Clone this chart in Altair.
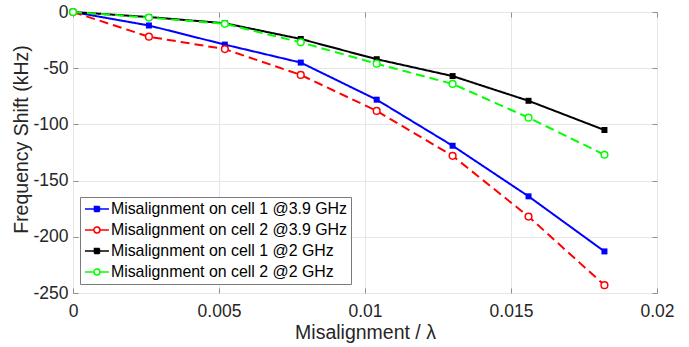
import altair as alt
import pandas as pd

# ---- data ----
x_vals = [0, 0.0026, 0.0052, 0.0078, 0.0104, 0.013, 0.0156, 0.0182]
cell1_39 = [0, -12, -29, -45, -78, -119, -164, -213]
cell2_39 = [0, -22, -33, -56, -88, -128, -182, -243]
cell1_2 = [0, -4.5, -10, -24, -42, -57, -79, -105]
cell2_2 = [0, -5, -10.5, -27, -46, -64, -94, -127]

series_names = [
    "Misalignment on cell 1 @3.9 GHz",
    "Misalignment on cell 2 @3.9 GHz",
    "Misalignment on cell 1 @2 GHz",
    "Misalignment on cell 2 @2 GHz",
]
series_values = [cell1_39, cell2_39, cell1_2, cell2_2]
series_colors = ["#0000FF", "#FF0000", "#000000", "#00FF00"]
series_dashes = [[1, 0], [9, 5], [1, 0], [9, 5]]

x_ticks = [0, 0.005, 0.01, 0.015, 0.02]
y_ticks = [0, -50, -100, -150, -200, -250]

rows = []
for k, (name, vals) in enumerate(zip(series_names, series_values)):
    for xv, yv in zip(x_vals, vals):
        rows.append({"series": name, "k": k, "x": xv, "y": yv})
df = pd.DataFrame(rows)

FONT = "Liberation Sans"
TXT = "#262626"
BOX = "#8f8f8f"

xscale = alt.Scale(domain=[0, 0.02], nice=False, zero=False)
yscale = alt.Scale(domain=[-250, 0], nice=False, zero=False)
cscale = alt.Scale(domain=series_names, range=series_colors)

main_x_axis = alt.Axis(
    values=x_ticks, labelExpr="'' + datum.value", ticks=False, tickSize=0,
    domain=False, grid=True, labelPadding=9, labelFontSize=17.5,
    labelFlush=False, labelOverlap=False,
    title="Misalignment / λ", titleFontSize=19.5, titleFontWeight="normal",
    titleY=45, titleBaseline="alphabetic",
)
main_y_axis = alt.Axis(
    values=y_ticks, labelExpr="'' + datum.value", ticks=False, tickSize=0,
    domain=False, grid=True, labelPadding=5, labelFontSize=17.5,
    labelFlush=False, labelOverlap=False,
    title="Frequency Shift (kHz)", titleFontSize=19.5, titleFontWeight="normal",
    titleX=-46, titleY=127, titleAngle=270, titleAlign="center",
    titleBaseline="alphabetic",
)


def tick_axis(orient, values):
    return alt.Axis(
        orient=orient, offset=-5, domain=False, labels=False, grid=False,
        ticks=True, tickSize=5, tickColor=BOX, tickWidth=1, title=None,
        values=values,
    )


# legend glyphs: short line with a filled square, or with an open circle
sq_path = "M-1.4,0H3.4M0.5,-0.5H1.5V0.5H0.5Z"
ci_path = ("M-1.4,0H0.4M1.6,0H3.4"
           "M1.6,0A0.6,0.6,0,1,1,0.4,0A0.6,0.6,0,1,1,1.6,0Z"
           "M1.6,0A0.6,0.6,0,1,0,0.4,0A0.6,0.6,0,1,0,1.6,0Z")
is_cell1 = "indexof(datum.value, 'cell 1') >= 0"

legend = alt.Legend(
    orient="none", legendX=7, legendY=185, title=None,
    labelFont=FONT, labelFontSize=15.9, labelColor="#000000", labelLimit=400,
    symbolSize=100, symbolStrokeWidth=1.5,
    symbolType={"expr": is_cell1 + " ? '" + sq_path + "' : '" + ci_path + "'"},
    labelOffset=11, rowPadding=4, padding=4,
    strokeColor="#7a7a7a", fillColor="#ffffff",
)

lines = alt.Chart(df).mark_line(strokeWidth=2).encode(
    x=alt.X("x:Q", scale=xscale, axis=main_x_axis),
    y=alt.Y("y:Q", scale=yscale, axis=main_y_axis),
    color=alt.Color("series:N", scale=cscale, legend=legend),
    strokeDash=alt.StrokeDash(
        "series:N", scale=alt.Scale(domain=series_names, range=series_dashes), legend=None
    ),
    detail="series:N",
)

squares = alt.Chart(df).transform_filter(
    alt.FieldOneOfPredicate(field="series", oneOf=[series_names[0], series_names[2]])
).mark_point(shape="square", filled=True, size=36, opacity=1).encode(
    x=alt.X("x:Q", scale=xscale, axis=tick_axis("bottom", x_ticks)),
    y=alt.Y("y:Q", scale=yscale, axis=tick_axis("left", y_ticks)),
    color=alt.Color("series:N", scale=cscale, legend=None),
)

circles = alt.Chart(df).transform_filter(
    alt.FieldOneOfPredicate(field="series", oneOf=[series_names[1], series_names[3]])
).mark_point(shape="circle", filled=False, fill="#ffffff", size=45, strokeWidth=1.5, opacity=1).encode(
    x=alt.X("x:Q", scale=xscale, axis=tick_axis("top", x_ticks)),
    y=alt.Y("y:Q", scale=yscale, axis=tick_axis("right", y_ticks)),
    color=alt.Color("series:N", scale=cscale, legend=None),
)

chart = alt.layer(lines, squares, circles).resolve_axis(
    x="independent", y="independent"
).properties(
    width=584, height=281,
    padding={"left": 73, "top": 12, "right": 32, "bottom": 54},
    autosize=alt.AutoSizeParams(type="none"),
    background="#ffffff",
).configure_view(
    stroke=BOX, strokeWidth=1
).configure_axis(
    labelFont=FONT, titleFont=FONT, labelColor=TXT, titleColor=TXT,
    gridColor="#e6e6e6", gridWidth=1,
)

chart.save("out.html", embed_options={"renderer": "svg", "actions": False})
